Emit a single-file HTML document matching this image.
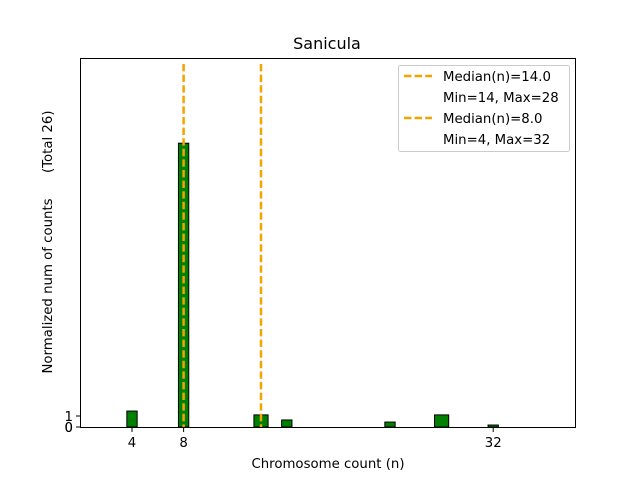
<!DOCTYPE html>
<html><head><meta charset="utf-8"><style>
body{margin:0;background:#fff;}
svg text{font-family:"DejaVu Sans","Liberation Sans",sans-serif;fill:#000;}
</style></head><body>
<svg id="chart" width="640" height="480" xmlns="http://www.w3.org/2000/svg">
<rect width="640" height="480" fill="#fff"/>
<text x="327" y="49" font-size="16" text-anchor="middle">Sanicula</text>
<g id="bars"></g>
<g id="medians"></g>
<rect x="80.5" y="58.5" width="495" height="369" fill="none" stroke="#000" stroke-width="1"/>
<g id="xticks"></g><g id="yticks"></g>
<text x="328" y="468" font-size="13.3" text-anchor="middle">Chromosome count (n)</text>
<text transform="translate(52,242) rotate(-90)" font-size="13.3" text-anchor="middle" xml:space="preserve">Normalized num of counts      (Total 26)</text>
<g>
<rect x="398.5" y="65.5" width="171" height="86" rx="2" fill="#fff" stroke="#ccc"/>
<line x1="404" y1="76" x2="432" y2="76" stroke="#f5a300" stroke-width="2.5" stroke-dasharray="7.4,3.2"/>
<text x="443" y="81" font-size="13.3">Median(n)=14.0</text>
<text x="443" y="102" font-size="13.3">Min=14, Max=28</text>
<line x1="404" y1="118" x2="432" y2="118" stroke="#f5a300" stroke-width="2.5" stroke-dasharray="7.4,3.2"/>
<text x="443" y="123" font-size="13.3">Median(n)=8.0</text>
<text x="443" y="144" font-size="13.3">Min=4, Max=32</text>
</g>
</svg>
<script>
const catsA=[4,8,16,24,32];
const valsA=[1.45,25.8,0.64,0.45,0.18];
const catsB=[14,28];
const valsB=[1.1,1.1];
const medians=[8,14];
const xTickVals=[4,8,32];
const yTickVals=[0,1,0];
const NS="http://www.w3.org/2000/svg";
const X=v=>80.4+v*12.9, Y=v=>427-v*11;
const bars=document.getElementById('bars');
function drawBar(c,v,w,i,g){
  const r=document.createElementNS(NS,'rect');
  r.setAttribute('x',X(c-w/2));r.setAttribute('y',Y(v));
  r.setAttribute('width',w*12.9);r.setAttribute('height',Y(0)-Y(v));
  r.setAttribute('fill','#008000');r.setAttribute('stroke','#000');r.setAttribute('stroke-width','1');
  
  
  bars.appendChild(r);
}
catsA.forEach((c,i)=>drawBar(c,valsA[i],0.8,i,'a'));
catsB.forEach((c,i)=>drawBar(c,valsB[i],1.1,i,'b'));
const med=document.getElementById('medians');
medians.forEach(m=>{
  const l=document.createElementNS(NS,'line');
  l.setAttribute('x1',X(m));l.setAttribute('x2',X(m));l.setAttribute('y1',64);l.setAttribute('y2',427);
  l.setAttribute('stroke','#f5a300');l.setAttribute('stroke-width','2.5');l.setAttribute('stroke-dasharray','7.4,3.2');
  
  
  med.appendChild(l);
});
const xt=document.getElementById('xticks');
xTickVals.forEach(v=>{
  const l=document.createElementNS(NS,'line');
  l.setAttribute('x1',X(v));l.setAttribute('x2',X(v));l.setAttribute('y1',428);l.setAttribute('y2',432);l.setAttribute('stroke','#000');
  
  
  xt.appendChild(l);
  const t=document.createElementNS(NS,'text');
  t.setAttribute('x',X(v));t.setAttribute('y',447);t.setAttribute('font-size','13.3');t.setAttribute('text-anchor','middle');
  t.textContent=v;
  
  
  xt.appendChild(t);
});
const yt=document.getElementById('yticks');
yTickVals.forEach((v,i)=>{
  const l=document.createElementNS(NS,'line');
  l.setAttribute('x1',76);l.setAttribute('x2',80);l.setAttribute('y1',Y(v));l.setAttribute('y2',Y(v));l.setAttribute('stroke','#000');
  
  
  yt.appendChild(l);
  const t=document.createElementNS(NS,'text');
  t.setAttribute('x',73);t.setAttribute('y',Y(v)+5);t.setAttribute('font-size','13.3');t.setAttribute('text-anchor','end');
  t.textContent=v;
  
  
  yt.appendChild(t);
});
</script>
</body></html>
